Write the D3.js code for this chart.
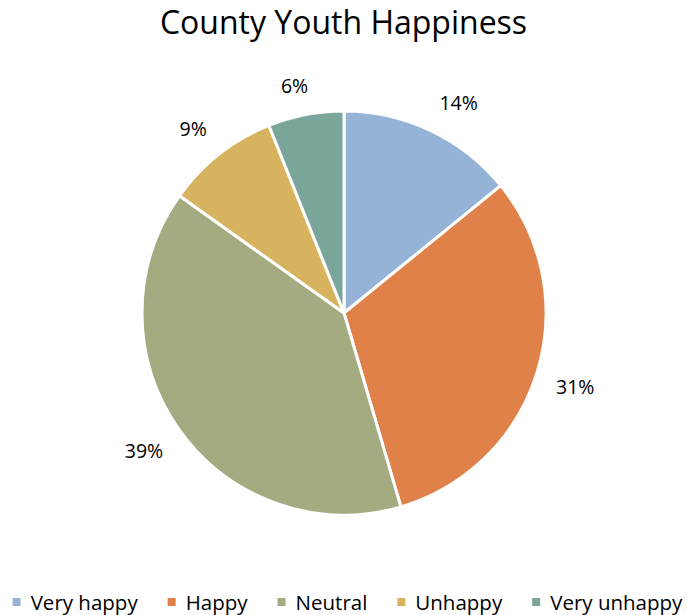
<!DOCTYPE html>
<html>
<head>
<meta charset="utf-8">
<script src="https://cdn.jsdelivr.net/npm/d3@7"></script>
<style>
  html, body { margin: 0; padding: 0; background: #fff; }
  svg { display: block; font-family: "Open Sans", Lato, sans-serif; }
</style>
</head>
<body>
<svg id="chart" width="687" height="615"></svg>
<script>
// Share of youth by happiness level (percent)
const categories = ["Very happy", "Happy", "Neutral", "Unhappy", "Very unhappy"];
const values = [14, 31, 39, 9, 6];
const colors = ["#95B3D7", "#DF8148", "#A5AB80", "#D8B35F", "#7AA59B"];
const title = "County Youth Happiness";

const width = 687, height = 615;
const cx = 344, cy = 313, radius = 202, labelGap = 222;
const labelSize = 19.5;

const svg = d3.select("#chart");

svg.append("text")
  .attr("x", width / 2)
  .attr("y", 34)
  .attr("text-anchor", "middle")
  .attr("font-size", 32)
  .attr("fill", "#000")
  .text(title);

const data = categories.map((c, i) => ({ name: c, value: values[i], color: colors[i] }));

const pie = d3.pie().value(d => d.value).sort(null);
const arcs = pie(data);

const arc = d3.arc().innerRadius(0).outerRadius(radius);
const anchorArc = d3.arc().innerRadius(labelGap).outerRadius(labelGap);

const g = svg.append("g").attr("transform", `translate(${cx},${cy})`);

g.selectAll("path.slice")
  .data(arcs)
  .join("path")
  .attr("class", "slice")
  .attr("d", arc)
  .attr("fill", d => d.data.color)
  .attr("stroke", "#fff")
  .attr("stroke-width", 3)
  .attr("stroke-linejoin", "round");

// Percent labels sit just outside the rim; each label box is pushed
// away from the slice so its nearest corner touches the anchor point.
const clamp = v => Math.max(-1, Math.min(1, v));
g.selectAll("text.pct")
  .data(arcs)
  .join("text")
  .attr("class", "pct")
  .attr("text-anchor", "middle")
  .attr("dy", "0.35em")
  .attr("font-size", labelSize)
  .attr("fill", "#000")
  .text(d => d.data.value + "%")
  .attr("transform", function (d) {
    const [px, py] = anchorArc.centroid(d);
    const mid = (d.startAngle + d.endAngle) / 2;
    const w = this.getComputedTextLength();
    const h = labelSize * 0.95;
    const ox = clamp(Math.sin(mid) / 0.35) * w / 2;
    const oy = clamp(-Math.cos(mid) / 0.35) * h / 2;
    return `translate(${px + ox},${py + oy})`;
  });

// Legend along the bottom, centred as a row
const legend = svg.append("g").attr("transform", "translate(0,603)");
const items = legend.selectAll("g.item")
  .data(data)
  .join("g")
  .attr("class", "item");

items.append("rect")
  .attr("width", 8)
  .attr("height", 8)
  .attr("y", -5)
  .attr("fill", d => d.color);

items.append("text")
  .attr("x", 18)
  .attr("dy", "0.35em")
  .attr("font-size", 20.5)
  .attr("fill", "#000")
  .text(d => d.name);

const gap = 30;
let x = 0;
const offsets = [];
items.each(function () {
  offsets.push(x);
  const w = d3.select(this).select("text").node().getComputedTextLength();
  x += 18 + w + gap;
});
const total = x - gap;
const start = (width - total) / 2 + 4;
items.attr("transform", (d, i) => `translate(${start + offsets[i]},0)`);
</script>
</body>
</html>
